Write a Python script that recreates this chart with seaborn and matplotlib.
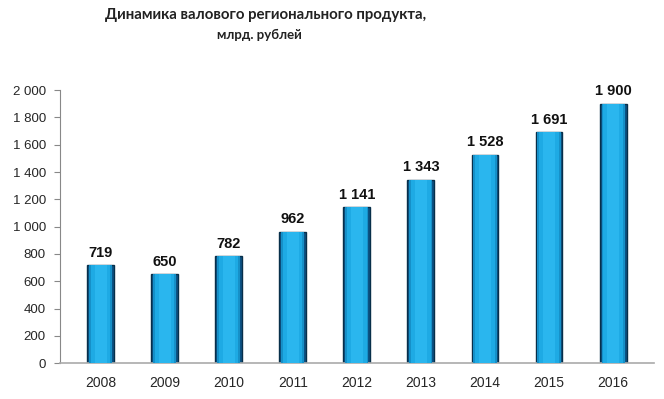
import numpy as np
import pandas as pd
import seaborn as sns
import matplotlib.pyplot as plt
from matplotlib.ticker import FuncFormatter

years = ['2008', '2009', '2010', '2011', '2012', '2013', '2014', '2015', '2016']
grp = [719, 650, 782, 962, 1141, 1343, 1528, 1691, 1900]
y_ticks = [0, 200, 400, 600, 800, 1000, 1200, 1400, 1600, 1800, 2000]

def fmt_space(v, pos=None):
    return f'{int(v):,}'.replace(',', ' ')

sns.set_style('white')
plt.rcParams['font.family'] = ['Liberation Sans', 'DejaVu Sans']

df = pd.DataFrame({'Год': years, 'ВРП': grp})

fig = plt.figure(figsize=(6.64, 3.99), dpi=100)
ax = fig.add_axes([0.090, 0.090, 0.895, 0.684])

# base bar with dark edges (the cylinder's shaded sides)
sns.barplot(data=df, x='Год', y='ВРП', color='#0c5284', width=0.42,
            edgecolor='#082f4a', linewidth=1.0, saturation=1, ax=ax)
# bright body of the cylinder
for w, c in [(0.36, '#1690c8'), (0.30, '#1eaae4'), (0.18, '#2ab6ee')]:
    ax.bar(np.arange(len(years)), grp, width=w, color=c, linewidth=0, zorder=3)

for i, v in enumerate(grp):
    ax.text(i, v + 40, fmt_space(v), ha='center', va='bottom',
            fontsize=10.5, fontweight='bold', color='#111111', clip_on=False)

ax.set_xlim(-0.64, 8.64)
ax.set_ylim(0, 2000)
ax.set_yticks(y_ticks)
ax.yaxis.set_major_formatter(FuncFormatter(fmt_space))
ax.set_xlabel('')
ax.set_ylabel('')
ax.tick_params(axis='y', which='major', left=True, length=4, width=0.8,
               color='#888888', labelsize=9.5, pad=6)
ax.tick_params(axis='x', bottom=False, labelsize=10, pad=6)

for s in ['top', 'right']:
    ax.spines[s].set_visible(False)
ax.spines['left'].set_color('#888888')
ax.spines['left'].set_linewidth(0.8)
ax.spines['bottom'].set_color('#aaaaaa')
ax.spines['bottom'].set_linewidth(1.2)

fig.text(0.400, 0.962, 'Динамика валового регионального продукта,',
         ha='center', va='center', fontsize=10.8, fontweight='bold',
         family=['Lato', 'DejaVu Sans'], color='#222222')
fig.text(0.390, 0.912, 'млрд. рублей', ha='center', va='center',
         fontsize=9.5, fontweight='bold', family=['Lato', 'DejaVu Sans'],
         color='#222222')

fig.savefig('out.png', dpi=100)
